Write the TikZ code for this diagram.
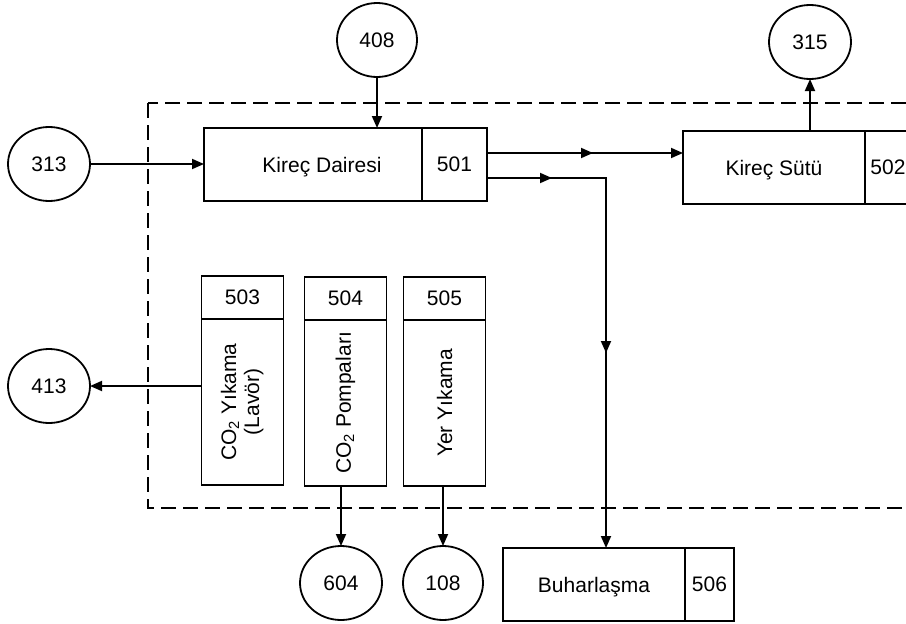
\documentclass[tikz,border=0pt]{standalone}
\usepackage{fontspec}
\setmainfont{Liberation Sans}
\usepackage{graphicx}
\usetikzlibrary{arrows.meta,shapes.geometric,decorations.markings,calc}

\begin{document}
\begin{tikzpicture}[x=1pt,y=-1pt,
  font=\fontsize{21}{25}\selectfont,
  line width=1.8pt,
  >={Triangle[length=12pt,width=10pt]},
  box/.style={draw, rectangle, inner sep=0pt, outer sep=0pt},
  unit/.style={box, text depth=0pt, minimum height=73pt},
  port/.style={draw, ellipse, inner sep=0pt, outer sep=0pt,
               minimum width=82pt, minimum height=74pt},
  frame/.style={draw, dash pattern=on 15pt off 7pt, line width=1.8pt},
  midtip/.style={postaction=decorate, decoration={markings,
      mark=at position #1 with {\arrow{Triangle[length=12pt,width=10pt]}}}},
  midtips/.style 2 args={postaction=decorate, decoration={markings,
      mark=at position #1 with {\arrow{Triangle[length=12pt,width=10pt]}},
      mark=at position #2 with {\arrow{Triangle[length=12pt,width=10pt]}}}}
]
\useasboundingbox (0,0) rectangle (906,624);
\clip (0,0) rectangle (906,624);

% system boundary
\path[frame] (148,103) rectangle (980,508);

% process units
\node[unit, minimum width=218pt] (kd) at (313,164.5) {\hspace*{18pt}Kireç Dairesi};
\node[unit, minimum width=65pt, anchor=west] (kdn) at (kd.east) {501};

\node[unit, minimum width=182pt] (ks) at (774,167.5) {Kireç Sütü};
\node[unit, minimum width=46pt, anchor=west] (ksn) at (ks.east) {502};

\node[unit, minimum width=182pt] (buh) at (594,584.5) {Buharlaşma};
\node[unit, minimum width=49pt, anchor=west] (buhn) at (buh.east) {506};

\node[box, minimum width=82pt, minimum height=43pt] (h503) at (242.5,297.5) {503};
\node[box, minimum width=82pt, minimum height=166pt, anchor=north] (b503) at (h503.south)
  {\rotatebox{90}{\begin{tabular}{@{}c@{}}CO\textsubscript{2} Yıkama\\[-2pt](Lavör)\end{tabular}}};

\node[box, minimum width=82pt, minimum height=43pt] (h504) at (345.5,298.5) {504};
\node[box, minimum width=82pt, minimum height=166pt, anchor=north] (b504) at (h504.south)
  {\rotatebox{90}{CO\textsubscript{2} Pompaları}};

\node[box, minimum width=82pt, minimum height=43pt] (h505) at (444.5,298.5) {505};
\node[box, minimum width=82pt, minimum height=166pt, anchor=north] (b505) at (h505.south)
  {\rotatebox{90}{Yer Yıkama}};

% external streams
\node[port, minimum width=80pt] (c408) at (377,40) {408};
\node[port] (c315) at (810,42) {315};
\node[port] (c313) at (49,164) {313};
\node[port] (c413) at (49,386) {413};
\node[port] (c604) at (341,583) {604};
\node[port, minimum width=80pt] (c108) at (443,583) {108};

% connections
\coordinate (o1) at ($(kdn.east)+(0,-11.5)$);
\coordinate (o2) at ($(kdn.east)+(0,13.5)$);
\coordinate (bt) at ($(buh.north)+(12,0)$);

\draw[->] (c408.south) -- (c408.south |- kd.north);
\draw[->] (c313.east) -- (c313.east -| kd.west);
\draw[->] (c315.south |- ks.north) -- (c315.south);
\draw[->, midtip=106pt] (o1) -- (o1 -| ks.west);
\draw[->, midtips={65pt}{294pt}] (o2) -| (bt);
\draw[->] (b503.west |- c413.east) -- (c413.east);
\draw[->] (c604.north |- b504.south) -- (c604.north);
\draw[->] (c108.north |- b505.south) -- (c108.north);
\end{tikzpicture}
\end{document}
